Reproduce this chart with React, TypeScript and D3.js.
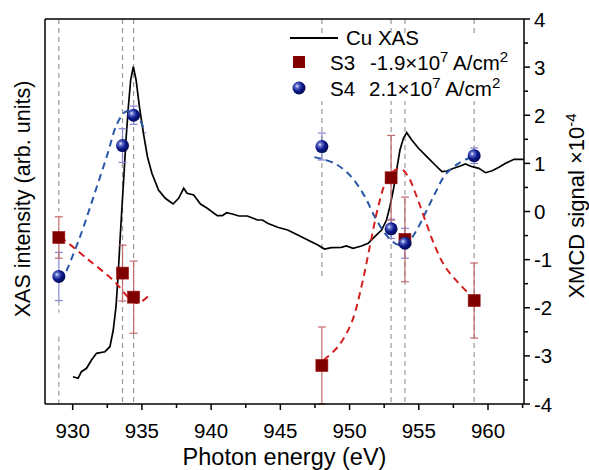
import React from "react";
import * as d3 from "d3";

// ---------- data ----------
const xasEnergy = [930.02,930.39,930.63,931.0,931.36,931.72,932.33,932.69,932.93,933.13,933.29,933.42,933.56,933.71,933.85,934.02,934.19,934.38,934.58,934.82,935.11,935.4,935.72,936.2,936.69,937.25,937.65,938.02,938.26,938.74,939.23,939.72,940.44,940.81,941.12,941.53,942.01,942.62,943.35,943.71,944.08,944.8,945.53,946.26,946.98,947.71,948.19,948.68,949.4,949.77,950.25,950.86,951.34,951.82,952.31,952.67,952.91,953.16,953.4,953.64,953.89,954.13,954.49,954.98,955.58,956.18,956.67,957.03,957.52,958.0,958.36,958.85,959.34,959.82,960.3,960.79,961.27,961.88,962.6];
const xasIntensity = [7.09,6.68,8.39,9.27,11.43,13.17,13.58,14.88,19.22,25.27,33.95,42.6,51.25,59.92,68.57,77.22,84.16,87.61,84.16,77.22,70.31,64.23,59.92,55.58,53.43,51.95,53.43,56.03,54.73,54.29,51.95,50.83,48.91,48.91,49.69,49.35,48.83,48.83,47.79,47.79,46.94,45.9,45.19,43.9,42.6,41.3,40.26,40.6,40.7,41.04,40.44,41.04,41.74,43.45,45.19,47.79,51.25,55.58,60.78,65.97,69.01,70.47,68.57,66.42,64.23,62.08,60.34,60.52,61.22,61.82,62.34,61.64,61.22,60.08,60.6,61.48,62.52,63.56,63.56];

const pointEnergy = [929, 933.6, 934.4, 948, 953, 954, 959];
const s3Values = [-0.54, -1.28, -1.78, -3.2, 0.7, -0.58, -1.85];
const s3Errors = [0.43, 0.58, 0.75, 0.8, 0.88, 0.88, 0.78];
const s4Values = [-1.35, 1.37, 2.0, 1.35, -0.36, -0.66, 1.16];
const s4Errors = [0.5, 0.35, 0.19, 0.28, 0.2, 0.31, 0.16];

const s3FitLeftE = [929.1, 931, 933, 933.9, 934.4, 934.8, 935.7];
const s3FitLeftV = [-0.52, -0.97, -1.45, -1.75, -1.88, -1.9, -1.69];
const s3FitRightE = [948.12, 949.16, 950.13, 950.86, 951.46, 952.07, 952.67, 953.28, 953.76, 954.25, 954.85, 955.46, 956.18, 956.91, 957.88, 958.85];
const s3FitRightV = [-3.09, -2.81, -2.32, -1.56, -0.73, 0.1, 0.65, 0.86, 0.88, 0.72, 0.31, -0.18, -0.73, -1.15, -1.49, -1.77];
const s4FitLeftE = [929.55, 930.5, 931.5, 932.5, 933.2, 933.8, 934.4, 934.9, 935.25];
const s4FitLeftV = [-1.24, -0.55, 0.3, 1.18, 1.82, 2.07, 2.1, 1.88, 1.63];
const s4FitRightE = [947.46, 948.92, 950.13, 951.1, 951.82, 952.55, 953.28, 954.0, 954.72, 955.46, 956.18, 956.91, 957.88, 958.85];
const s4FitRightV = [1.13, 1.0, 0.72, 0.31, -0.11, -0.45, -0.66, -0.7, -0.45, -0.04, 0.38, 0.76, 1.0, 1.14];

const guideEnergy = [929, 933.6, 934.4, 948, 953, 954, 959];
const guideSegments: number[][][] = [
  [[4, 0], [-1.85, -2.1], [-2.6, -4]],
  [[4, -4]],
  [[4, -4]],
  [[4, -1.37]],
  [[4, -4]],
  [[4, -4]],
  [[4, -4]],
];

const xTicks = [930, 935, 940, 945, 950, 955, 960];
const xMinorTicks = [932.5, 937.5, 942.5, 947.5, 952.5, 957.5, 962.5];
const yTicks = [-4, -3, -2, -1, 0, 1, 2, 3, 4];
const yMinorTicks = [-3.5, -2.5, -1.5, -0.5, 0.5, 1.5, 2.5, 3.5];

// ---------- layout ----------
const W = 589, H = 470;
const L = 45, R = 524, T = 19, B = 404;
const FONT = "'Liberation Sans', Arial, sans-serif";

export default function App() {
  const x = d3.scaleLinear().domain([928, 962.6]).range([L, R]);
  const yR = d3.scaleLinear().domain([-4, 4]).range([B, T]);
  const yL = d3.scaleLinear().domain([0, 100]).range([B, T]);

  const xasLine = d3.line<number>()
    .x((_, i) => x(xasEnergy[i]))
    .y((d) => yL(d))
    .curve(d3.curveLinear);

  const fit = (es: number[], vs: number[]) =>
    d3.line<number>()
      .x((_, i) => x(es[i]))
      .y((d) => yR(d))
      .curve(d3.curveCatmullRom)(vs) || "";

  const redErr = "#c46a6a";
  const blueErr = "#8585d0";
  const redFit = "#d41f1f";
  const blueFit = "#2857a8";
  const cap = 4;

  return (
    <svg width={W} height={H} style={{ position: "absolute", left: 0, top: 0, background: "#fff" }} fontFamily={FONT}>
      <defs>
        <radialGradient id="ball" cx="38%" cy="38%" r="65%" fx="35%" fy="35%">
          <stop offset="0%" stopColor="#f0f0ff" />
          <stop offset="22%" stopColor="#6470cc" />
          <stop offset="58%" stopColor="#0c1a8c" />
          <stop offset="100%" stopColor="#020a50" />
        </radialGradient>
        <clipPath id="plot">
          <rect x={L} y={T} width={R - L} height={B - T} />
        </clipPath>
      </defs>

      {/* guide lines */}
      <g stroke="#999" strokeWidth={1.2} strokeDasharray="5,4">
        {guideEnergy.map((e, i) =>
          guideSegments[i].map((s, j) => (
            <line key={`${i}-${j}`} x1={x(e)} x2={x(e)} y1={yR(s[0])} y2={yR(s[1])} />
          ))
        )}
      </g>

      {/* legend background */}
      <rect x={284} y={37} width={234} height={64} fill="#fff" />

      {/* XAS curve */}
      <path d={xasLine(xasIntensity) || ""} fill="none" stroke="#000" strokeWidth={1.7} clipPath="url(#plot)" />

      {/* fits */}
      <g fill="none" strokeWidth={2} strokeDasharray="7,5">
        <path d={fit(s4FitLeftE, s4FitLeftV)} stroke={blueFit} />
        <path d={fit(s4FitRightE, s4FitRightV)} stroke={blueFit} />
        <path d={fit(s3FitLeftE, s3FitLeftV)} stroke={redFit} />
        <path d={fit(s3FitRightE, s3FitRightV)} stroke={redFit} />
      </g>

      {/* error bars */}
      <g strokeWidth={1.2}>
        {pointEnergy.map((e, i) => (
          <g key={"e4" + i} stroke={blueErr}>
            <line x1={x(e)} x2={x(e)} y1={yR(s4Values[i] - s4Errors[i])} y2={yR(s4Values[i] + s4Errors[i])} />
            <line x1={x(e) - cap} x2={x(e) + cap} y1={yR(s4Values[i] - s4Errors[i])} y2={yR(s4Values[i] - s4Errors[i])} />
            <line x1={x(e) - cap} x2={x(e) + cap} y1={yR(s4Values[i] + s4Errors[i])} y2={yR(s4Values[i] + s4Errors[i])} />
          </g>
        ))}
        {pointEnergy.map((e, i) => (
          <g key={"e3" + i} stroke={redErr}>
            <line x1={x(e)} x2={x(e)} y1={yR(s3Values[i] - s3Errors[i])} y2={yR(s3Values[i] + s3Errors[i])} />
            <line x1={x(e) - cap} x2={x(e) + cap} y1={yR(s3Values[i] - s3Errors[i])} y2={yR(s3Values[i] - s3Errors[i])} />
            <line x1={x(e) - cap} x2={x(e) + cap} y1={yR(s3Values[i] + s3Errors[i])} y2={yR(s3Values[i] + s3Errors[i])} />
          </g>
        ))}
      </g>

      {/* markers */}
      {pointEnergy.map((e, i) => (
        <rect key={"m3" + i} x={x(e) - 6} y={yR(s3Values[i]) - 6} width={12} height={12} fill="#800000" stroke="#9a1010" strokeWidth={0.6} />
      ))}
      {pointEnergy.map((e, i) => (
        <circle key={"m4" + i} cx={x(e)} cy={yR(s4Values[i])} r={6.5} fill="url(#ball)" />
      ))}

      {/* frame */}
      <g stroke="#000" strokeWidth={1.5} fill="none">
        <line x1={L} x2={R} y1={T} y2={T} />
        <line x1={L} x2={L} y1={T} y2={B} />
        <line x1={L} x2={R} y1={B} y2={B} />
        <line x1={R} x2={R} y1={T} y2={B} />
      </g>

      {/* ticks */}
      <g stroke="#000" strokeWidth={1.5}>
        {xTicks.map((t) => <line key={"xt" + t} x1={x(t)} x2={x(t)} y1={B} y2={B + 6} />)}
        {xMinorTicks.map((t) => <line key={"xm" + t} x1={x(t)} x2={x(t)} y1={B} y2={B + 4} />)}
        {yTicks.map((t) => <line key={"yt" + t} x1={R} x2={R + 6} y1={yR(t)} y2={yR(t)} />)}
        {yMinorTicks.map((t) => <line key={"ym" + t} x1={R} x2={R + 4} y1={yR(t)} y2={yR(t)} />)}
      </g>
      <g fontSize={20.5} fill="#000">
        {xTicks.map((t) => (
          <text key={"xl" + t} x={x(t)} y={438} textAnchor="middle">{t}</text>
        ))}
        {yTicks.map((t) => (
          <text key={"yl" + t} x={534} y={yR(t) + 7.5} textAnchor="start">{t}</text>
        ))}
      </g>

      {/* axis titles */}
      <text x={(L + R) / 2} y={465} textAnchor="middle" fontSize={23.5}>Photon energy (eV)</text>
      <text transform={`translate(30,199) rotate(-90)`} textAnchor="middle" fontSize={21.5}>XAS intensity (arb. units)</text>
      <text transform={`translate(584,206) rotate(-90)`} textAnchor="middle" fontSize={22}>
        XMCD signal ×10<tspan dy={-8} fontSize={15}>-4</tspan>
      </text>

      {/* legend */}
      <line x1={290} x2={338} y1={38} y2={38} stroke="#000" strokeWidth={1.8} />
      <text x={346} y={45} fontSize={20.5}>Cu XAS</text>
      <rect x={293} y={56} width={12} height={12} fill="#800000" />
      <text x={330} y={70} fontSize={20.5}>S3</text>
      <text x={370} y={70} fontSize={20.5}>
        -1.9×10<tspan dy={-8} fontSize={15}>7</tspan><tspan dy={8}> A/cm</tspan><tspan dy={-8} fontSize={15}>2</tspan>
      </text>
      <circle cx={299} cy={88} r={6.5} fill="url(#ball)" />
      <text x={330} y={96} fontSize={20.5}>S4</text>
      <text x={369} y={96} fontSize={20.5}>
        2.1×10<tspan dy={-8} fontSize={15}>7</tspan><tspan dy={8}> A/cm</tspan><tspan dy={-8} fontSize={15}>2</tspan>
      </text>
    </svg>
  );
}
